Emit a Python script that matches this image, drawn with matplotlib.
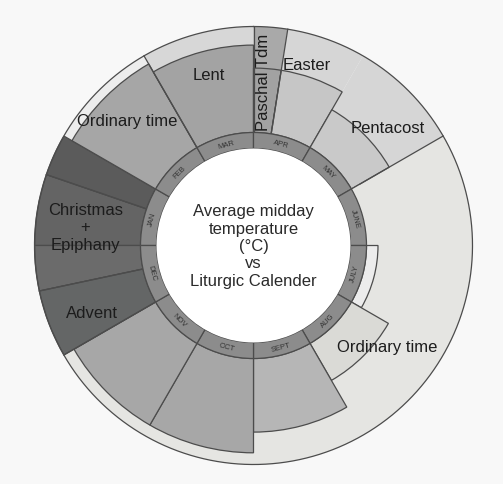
import numpy as np
import matplotlib.pyplot as plt

plt.rcParams['font.family'] = ['Liberation Sans', 'DejaVu Sans']

# monthly average midday temperature (deg C)
months = ['JAN', 'FEB', 'MAR', 'APR', 'MAY', 'JUNE', 'JULY', 'AUG', 'SEPT', 'OCT', 'NOV', 'DEC']
midday_temp = [33, 31, 29, 24, 19.5, 12, 12.5, 19.3, 26, 30.5, 30.5, 33]

# liturgical seasons, start given in months from 1 Jan (each runs to the next start)
seasons = ['Christmas\n+\nEpiphany', 'Ordinary time', 'Lent', 'Paschal Tdm', 'Easter',
           'Pentacost', 'Ordinary time', 'Advent']
season_start = [11.6, 0.63, 2.0, 3.0, 3.3, 4.0, 5.0, 11.0]

# colours
month_colors = ['#646464', '#a6a6a6', '#a3a3a3', '#c6c6c6', '#c9c9c9', '#e5e5e2',
                '#ececec', '#dadad6', '#b6b6b6', '#a7a7a7', '#a7a7a7', '#6b6b6b']
season_colors = ['#676767', '#ededed', '#d7d7d7', '#a9a9a9', '#d6d6d6',
                 '#d6d6d6', '#e5e5e2', '#656767']
# bar pieces that take a different shade inside a season
piece_colors = {(0, 1): '#5b5b5b', (3, 3): '#a2a2a2', (11, 7): '#646666'}
hidden_bars = ['JUNE']

# label placement (degrees clockwise from top, radius)
label_pos = [(276.3, 169), (314.8, 178), (345.5, 177), (3.6, 164), (16.5, 189),
             (48.6, 179), (127, 167), (247.6, 175)]

HOLE = 97
RING = 113
OUTER = 219
RLIM = 226
T_BASE = 10
SCALE = 4.6
EDGE = '#4c4c4c'


def to_theta(m):
    # month offset -> polar angle; January starts at 9 o'clock
    return np.deg2rad(270 + 30 * m)


fig = plt.figure(figsize=(5.03, 4.85), dpi=100)
fig.patch.set_facecolor('#f8f8f8')
ax = fig.add_axes([(253.5 - RLIM) / 503, (238.5 - RLIM) / 485, 2 * RLIM / 503, 2 * RLIM / 485],
                  projection='polar')
ax.set_theta_zero_location('N')
ax.set_theta_direction(-1)
ax.set_ylim(0, RLIM)
ax.set_facecolor('none')
ax.grid(False)
ax.set_xticks([])
ax.set_yticks([])
ax.spines['polar'].set_visible(False)

# season intervals, split where they wrap past the end of the year
n = len(seasons)
spans = []
for i in range(n):
    s = season_start[i]
    e = season_start[(i + 1) % n]
    if e < s:
        spans.append((i, s, 12.0))
        spans.append((i, 0.0, e))
    else:
        spans.append((i, s, e))

# season background wedges out to the full radius
for i, s, e in spans:
    ax.bar(to_theta(s), OUTER - RING, width=to_theta(e) - to_theta(s), bottom=RING,
           align='edge', color=season_colors[i], linewidth=0, zorder=1)

# temperature bars, cut where a season changes inside the month
for k, name in enumerate(months):
    h = (midday_temp[k] - T_BASE) * SCALE
    for i, s, e in spans:
        lo = max(s, k)
        hi = min(e, k + 1)
        if hi - lo <= 1e-6:
            continue
        col = piece_colors.get((k, i), month_colors[k])
        lw = 0 if name in hidden_bars else 0.9
        ax.bar(to_theta(lo), h, width=to_theta(hi) - to_theta(lo), bottom=RING,
               align='edge', color=col, edgecolor=EDGE, linewidth=lw, zorder=2)

# season boundary lines where the shade changes
for i in range(n):
    if season_colors[i] != season_colors[i - 1]:
        t = to_theta(season_start[i])
        ax.plot([t, t], [RING, OUTER], color=EDGE, linewidth=0.9, zorder=3)

# outer rim
tt = np.linspace(0, 2 * np.pi, 400)
ax.plot(tt, np.full_like(tt, OUTER), color=EDGE, linewidth=0.9, zorder=3)

# month ring and centre
ax.bar(to_theta(np.arange(12)), RING - HOLE, width=np.deg2rad(30), bottom=HOLE,
       align='edge', color='#8c8c8c', edgecolor=EDGE, linewidth=0.9, zorder=4)
ax.bar(0, HOLE, width=2 * np.pi, bottom=0, color='white', linewidth=0, zorder=4)

for k, name in enumerate(months):
    c = (270 + 30 * (k + 0.5)) % 360
    rot = -c
    if 90 < c < 270:
        rot = 180 - c
    ax.text(np.deg2rad(c), (HOLE + RING) / 2, name, rotation=rot, rotation_mode='anchor',
            ha='center', va='center', fontsize=5.5, color='#333333', zorder=5)

for i, name in enumerate(seasons):
    a, r = label_pos[i]
    rot = 90 if name == 'Paschal Tdm' else 0
    ax.text(np.deg2rad(a), r, name, ha='center', va='center', rotation=rot,
            fontsize=12, color='#1c1c1c', zorder=6)

ax.text(0, 0, 'Average midday\ntemperature\n(\u00b0C)\nvs\nLiturgic Calender',
        ha='center', va='center', fontsize=12, color='#2a2a2a', linespacing=1.2, zorder=6)

fig.savefig('out.png', dpi=100, facecolor=fig.get_facecolor())
